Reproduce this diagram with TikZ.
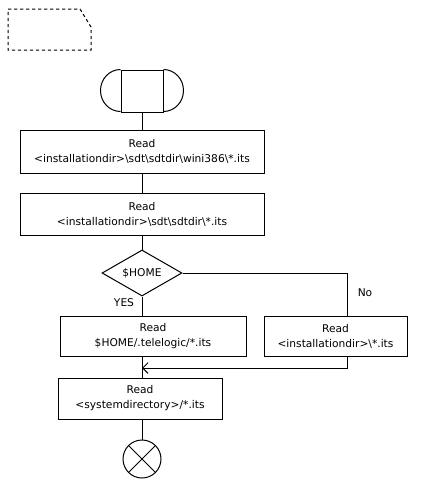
\documentclass[tikz,border=0pt]{standalone}
\usepackage{fontspec}
\setmainfont{DejaVu Sans}
\usetikzlibrary{shapes.geometric,arrows.meta}
\begin{document}
\begin{tikzpicture}[x=0.75pt,y=-0.75pt,
  line width=0.75pt,
  every node/.style={font=\fontsize{8}{11.25}\selectfont},
  readbox/.style 2 args={draw, rectangle, align=center, inner sep=0pt,
    minimum width=#1*0.75pt, minimum height=#2*0.75pt},
  decision/.style={draw, diamond, inner sep=0pt, aspect=1.74,
    minimum width=60pt, minimum height=34.5pt},
  terminator/.style={draw, rectangle, inner sep=0pt, minimum size=31.5pt},
  stopsym/.style={draw, circle, inner sep=0pt, minimum size=28.5pt,
    path picture={
      \draw (path picture bounding box.north west) -- (path picture bounding box.south east)
            (path picture bounding box.north east) -- (path picture bounding box.south west);}},
  lbl/.style={inner sep=0pt},
  mergearrow/.style={-{Straight Barb[length=4pt,width=8pt]}}
]
\useasboundingbox (0,0) rectangle (421,479);

% text/comment symbol with folded corner
\draw[dash pattern=on 2.5pt off 2pt] (8,9) -- (80,9) -- (91,27) -- (91,50) -- (8,50) -- cycle;

% start symbol
\node[terminator] (start) at (142,91) {};
\draw (start.north west) arc[start angle=90, end angle=270, x radius=15pt, y radius=15.75pt];
\draw (start.north east) arc[start angle=90, end angle=-90, x radius=15pt, y radius=15.75pt];

% tasks
\node[readbox={244}{43}] (wini) at (142,151.5)
  {Read\\\textless installationdir\textgreater\textbackslash sdt\textbackslash sdtdir\textbackslash wini386\textbackslash *.its};
\node[readbox={244}{42}] (sdtdir) at (142,214)
  {Read\\\textless installationdir\textgreater\textbackslash sdt\textbackslash sdtdir\textbackslash *.its};

% decision
\node[decision] (home) at (142,273) {\$HOME};

\node[readbox={186}{40}] (tele) at (153,336)
  {Read\\\$HOME/.telelogic/*.its};
\node[readbox={143}{40}] (inst) at (335.5,336)
  {Read\\\textless installationdir\textgreater\textbackslash *.its};
\node[readbox={164}{41}] (sysdir) at (140,398.5)
  {Read\\\textless systemdirectory\textgreater/*.its};

% stop symbol
\node[stopsym] (stop) at (142,459) {};

% branch points
\coordinate (ncorner) at (347,273);
\coordinate (merge) at (142,368);

% labels
\node[lbl] (yes) at (124,303) {YES};
\node[lbl] (no) at (365,293) {No};

% connectors
\draw (start.south) -- (start.south |- wini.north);
\draw (wini.south -| start.south) -- (sdtdir.north -| start.south);
\draw (sdtdir.south -| home.north) -- (home.north);
\draw (home.south) -- (home.south |- tele.north);
\draw (home.east) -- (ncorner) -- (ncorner |- inst.north);
\draw[mergearrow] (ncorner |- inst.south) |- (merge);
\draw (tele.south -| merge) -- (sysdir.north -| merge);
\draw (sysdir.south -| stop.north) -- (stop.north);
\end{tikzpicture}
\end{document}
